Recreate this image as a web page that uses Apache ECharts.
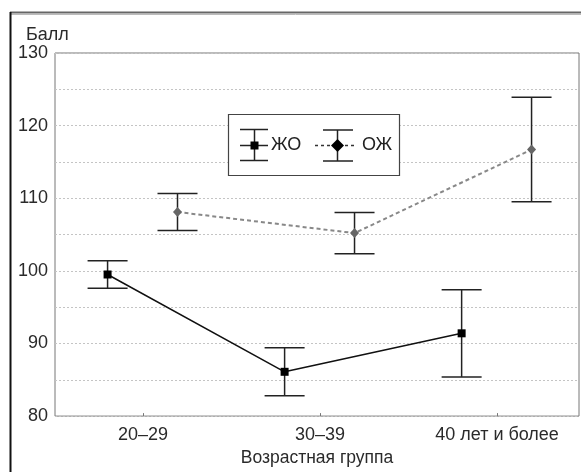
<!DOCTYPE html>
<html><head><meta charset="utf-8">
<script src="https://cdn.jsdelivr.net/npm/echarts@6/dist/echarts.min.js"></script>
<style>html,body{margin:0;padding:0;background:#fff}#c{width:581px;height:472px}</style>
</head><body><div id="c"></div>
<script>
// ---- data ----
const categories = ['20–29', '30–39', '40 лет и более'];
const yTickLabels = [80, 90, 100, 110, 120, 130];
const seriesNames = ['ЖО', 'ОЖ'];
const zhoMean = [99.5, 86.1, 91.4];
const zhoErr = [1.9, 3.3, 6.0];
const ozhMean = [108.1, 105.2, 116.7];
const ozhErr = [2.55, 2.85, 7.2];

// ---- layout / style constants ----
const OFF_ZHO = -0.2, OFF_OZH = 0.195;
const FONT = 'Liberation Sans, Arial, sans-serif';

const zhoPts = categories.map((c, i) => [i + OFF_ZHO, zhoMean[i]]);
const ozhPts = categories.map((c, i) => [i + OFF_OZH, ozhMean[i]]);
const zhoBars = categories.map((c, i) => [i + OFF_ZHO, zhoMean[i] - zhoErr[i], zhoMean[i] + zhoErr[i]]);
const ozhBars = categories.map((c, i) => [i + OFF_OZH, ozhMean[i] - ozhErr[i], ozhMean[i] + ozhErr[i]]);

function errRender(params, api) {
  const x = api.value(0), lo = api.value(1), hi = api.value(2);
  const pLo = api.coord([x, lo]), pHi = api.coord([x, hi]);
  const hw = 20;
  const st = { stroke: '#222', lineWidth: 1.5, fill: null };
  return { type: 'group', children: [
    { type: 'line', shape: { x1: pLo[0], y1: pLo[1], x2: pHi[0], y2: pHi[1] }, style: st },
    { type: 'line', shape: { x1: pLo[0] - hw, y1: pLo[1], x2: pLo[0] + hw, y2: pLo[1] }, style: st },
    { type: 'line', shape: { x1: pHi[0] - hw, y1: pHi[1], x2: pHi[0] + hw, y2: pHi[1] }, style: st }
  ]};
}

const chart = echarts.init(document.getElementById('c'), null, { renderer: 'canvas' });
const legendY = 145.5;
chart.setOption({
  animation: false,
  backgroundColor: '#fff',
  textStyle: { fontFamily: FONT },
  grid: { left: 55, top: 53, right: 2, bottom: 55, show: true, borderColor: '#777', borderWidth: 1, containLabel: false },
  title: { text: 'Балл', left: 21, top: 21, textStyle: { fontSize: 18, fontWeight: 'normal', color: '#2a2a2a', fontFamily: FONT } },
  xAxis: {
    type: 'value', min: -0.497, max: 2.463,
    axisLine: { show: false },
    splitLine: { show: false },
    axisTick: { show: true, inside: true, length: 3, customValues: [0, 1, 2], lineStyle: { color: '#777' } },
    axisLabel: { customValues: [0, 1, 2], formatter: v => categories[Math.round(v)], fontSize: 18, color: '#2a2a2a', margin: 10, fontFamily: FONT },
    name: 'Возрастная группа', nameLocation: 'middle', nameGap: 32,
    nameTextStyle: { fontSize: 17.5, color: '#2a2a2a', fontFamily: FONT }
  },
  yAxis: {
    type: 'value', min: 80, max: 130, interval: 5,
    axisLine: { show: false },
    axisTick: { show: false },
    splitLine: { show: true, lineStyle: { color: '#c4c4c4', type: [2, 2], width: 1 } },
    axisLabel: { formatter: v => (yTickLabels.indexOf(v) >= 0 ? String(v) : ''), fontSize: 18, color: '#2a2a2a', margin: 7, fontFamily: FONT }
  },
  series: [
    { type: 'custom', name: seriesNames[0] + ' err', renderItem: errRender, data: zhoBars, encode: { x: 0, y: [1, 2] }, z: 2, silent: true },
    { type: 'custom', name: seriesNames[1] + ' err', renderItem: errRender, data: ozhBars, encode: { x: 0, y: [1, 2] }, z: 2, silent: true },
    { type: 'line', name: seriesNames[0], data: zhoPts, z: 3,
      lineStyle: { color: '#111', width: 1.5 }, symbol: 'rect', symbolSize: 8,
      itemStyle: { color: '#000' } },
    { type: 'line', name: seriesNames[1], data: ozhPts, z: 3,
      lineStyle: { color: '#888', width: 2, type: [4, 3] }, symbol: 'diamond', symbolSize: [9, 10],
      itemStyle: { color: '#666' } }
  ],
  graphic: [
    // outer frame
    { type: 'line', shape: { x1: 10, y1: 12.5, x2: 581, y2: 12.5 }, style: { stroke: '#666', lineWidth: 2 }, z: 10 },
    { type: 'line', shape: { x1: 10, y1: 14.5, x2: 581, y2: 14.5 }, style: { stroke: '#bbb', lineWidth: 1 }, z: 10 },
    { type: 'line', shape: { x1: 10.5, y1: 12, x2: 10.5, y2: 472 }, style: { stroke: '#111', lineWidth: 2 }, z: 10 },
    // legend box
    { type: 'rect', shape: { x: 228.5, y: 114.5, width: 171, height: 61 }, style: { fill: '#fff', stroke: '#444', lineWidth: 1.2 }, z: 20 },
    // ЖО legend
    { type: 'line', shape: { x1: 254.5, y1: 129.5, x2: 254.5, y2: 160.5 }, style: { stroke: '#222', lineWidth: 1.5 }, z: 21 },
    { type: 'line', shape: { x1: 240, y1: 129.5, x2: 268, y2: 129.5 }, style: { stroke: '#222', lineWidth: 1.5 }, z: 21 },
    { type: 'line', shape: { x1: 240, y1: 160.5, x2: 268, y2: 160.5 }, style: { stroke: '#222', lineWidth: 1.5 }, z: 21 },
    { type: 'line', shape: { x1: 240, y1: legendY, x2: 268, y2: legendY }, style: { stroke: '#222', lineWidth: 1.5 }, z: 21 },
    { type: 'rect', shape: { x: 250.5, y: legendY - 4, width: 8, height: 8 }, style: { fill: '#000' }, z: 22 },
    { type: 'text', x: 271, y: legendY, style: { text: seriesNames[0], fontSize: 18, fill: '#222', verticalAlign: 'middle', fontFamily: FONT }, z: 22 },
    // ОЖ legend
    { type: 'line', shape: { x1: 315, y1: legendY, x2: 354, y2: legendY }, style: { stroke: '#333', lineWidth: 1.5, lineDash: [3, 3] }, z: 21 },
    { type: 'line', shape: { x1: 337.5, y1: 130, x2: 337.5, y2: 161 }, style: { stroke: '#222', lineWidth: 1.5 }, z: 21 },
    { type: 'line', shape: { x1: 323, y1: 130, x2: 353, y2: 130 }, style: { stroke: '#222', lineWidth: 1.5 }, z: 21 },
    { type: 'line', shape: { x1: 323, y1: 161, x2: 353, y2: 161 }, style: { stroke: '#222', lineWidth: 1.5 }, z: 21 },
    { type: 'polygon', shape: { points: [[337.5, legendY - 6.5], [344, legendY], [337.5, legendY + 6.5], [331, legendY]] }, style: { fill: '#000' }, z: 22 },
    { type: 'text', x: 362, y: legendY, style: { text: seriesNames[1], fontSize: 18, fill: '#222', verticalAlign: 'middle', fontFamily: FONT }, z: 22 }
  ]
});
</script>
</body></html>
